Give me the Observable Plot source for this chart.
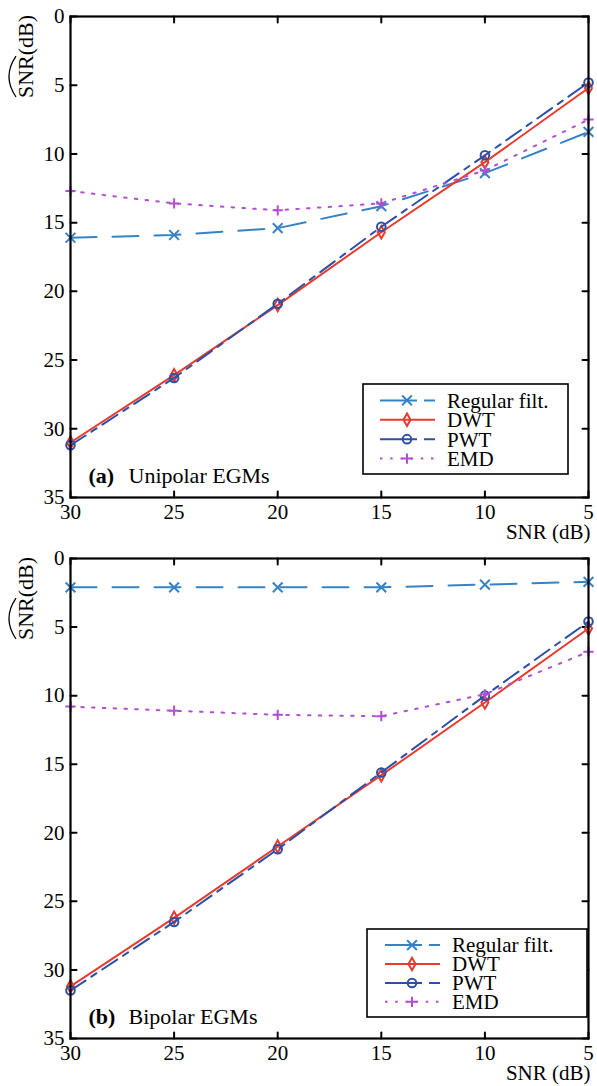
<!DOCTYPE html>
<html>
<head>
<meta charset="utf-8">
<script src="https://cdn.jsdelivr.net/npm/d3@7"></script>
<script src="https://cdn.jsdelivr.net/npm/@observablehq/plot@0.6"></script>
<style>
  body { margin: 0; background: #fff; }
  #chart { width: 597px; }
  #chart svg { display: block; }
</style>
</head>
<body>
<div id="chart"></div>
<script>
// Input SNR levels (dB) and tick values
const snrIn = [30, 25, 20, 15, 10, 5];
const xTicks = [30, 25, 20, 15, 10, 5];
const yTicks = [0, 5, 10, 15, 20, 25, 30, 35];
const seriesNames = ["Regular filt.", "DWT", "PWT", "EMD"];

// (a) Unipolar EGMs: estimated output SNR (dB)
const uniRegular = [16.1, 15.9, 15.4, 13.8, 11.4, 8.4];
const uniDWT     = [31.0, 26.1, 21.0, 15.7, 10.6, 5.2];
const uniPWT     = [31.2, 26.3, 20.9, 15.3, 10.1, 4.8];
const uniEMD     = [12.7, 13.6, 14.1, 13.6, 11.2, 7.5];

// (b) Bipolar EGMs: estimated output SNR (dB)
const biRegular = [2.1, 2.1, 2.1, 2.1, 1.9, 1.7];
const biDWT     = [31.2, 26.2, 21.0, 15.8, 10.5, 5.1];
const biPWT     = [31.5, 26.5, 21.2, 15.6, 10.0, 4.6];
const biEMD     = [10.8, 11.1, 11.4, 11.5, 9.9, 6.8];

// Tall, narrow diamond marker (MATLAB-like 'd')
const tallDiamond = {
  draw(ctx, size) {
    const r = Math.sqrt(size / Math.PI);
    ctx.moveTo(0, -1.45 * r);
    ctx.lineTo(0.82 * r, 0);
    ctx.lineTo(0, 1.45 * r);
    ctx.lineTo(-0.82 * r, 0);
    ctx.closePath();
  }
};

// Plain straight stroke used as a tick-mark vector shape
const tickShape = {
  draw(ctx, l) {
    ctx.moveTo(0, 0);
    ctx.lineTo(0, -l);
  }
};

const seriesStyles = [
  { color: "#3583c6", dash: "26,16", legendDash: "37,7,12", symbol: "times", d3symbol: d3.symbolTimes, r: 4.5 },
  { color: "#e63b2e", dash: null, legendDash: null, symbol: tallDiamond, d3symbol: tallDiamond, r: 4.3 },
  { color: "#2e4fa6", dash: "18,7,6,7", legendDash: "37,7,12", symbol: "circle", d3symbol: d3.symbolCircle, r: 4.3 },
  { color: "#b24fd1", dash: "2.5,8.3", legendDash: "2.5,7.7", symbol: "plus", d3symbol: d3.symbolPlus, r: 3.4 }
];

const FONT = "'Liberation Serif', 'Times New Roman', serif";
const TICK = 6;

function inwardTicks() {
  const common = { length: TICK, anchor: "start", shape: tickShape, stroke: "black", strokeWidth: 2 };
  return [
    Plot.vector(xTicks, { x: d => d, frameAnchor: "bottom", rotate: 0, ...common }),
    Plot.vector(xTicks, { x: d => d, frameAnchor: "top", rotate: 180, ...common }),
    Plot.vector(yTicks, { y: d => d, frameAnchor: "left", rotate: 90, ...common }),
    Plot.vector(yTicks, { y: d => d, frameAnchor: "right", rotate: -90, ...common })
  ];
}

function makePanel({series, height, marginBottom, tag, title, legendBox, legendX}) {
  const rows = series.flatMap((vals, i) =>
    snrIn.map((x, j) => ({ series: seriesNames[i], idx: i, x, y: vals[j] })));

  const marks = [];
  seriesStyles.forEach((s, i) => {
    const data = rows.filter(d => d.idx === i);
    marks.push(Plot.line(data, {
      x: "x", y: "y", stroke: s.color, strokeWidth: 2,
      strokeDasharray: s.dash ?? undefined
    }));
    marks.push(Plot.dot(data, {
      x: "x", y: "y", symbol: s.symbol, r: s.r,
      stroke: s.color, strokeWidth: 2, fill: "none"
    }));
  });

  const svg = Plot.plot({
    width: 597,
    height,
    marginTop: 16,
    marginBottom,
    marginLeft: 70,
    marginRight: 9,
    style: { fontFamily: FONT, fontSize: "21px", background: "white", overflow: "visible" },
    x: { domain: [30, 5], label: null },
    y: { domain: [0, 35], reverse: true, label: null },
    marks: [
      // tick labels
      Plot.axisX(xTicks, { anchor: "bottom", tickSize: 0, tickPadding: 7, fontSize: 21 }),
      Plot.axisY(yTicks, { anchor: "left", tickSize: 0, tickPadding: 6, fontSize: 21 }),
      // inward ticks on all four sides
      ...inwardTicks(),
      ...marks,
      Plot.frame({ stroke: "black", strokeWidth: 2.2 }),
      // x-axis title
      Plot.text(["SNR (dB)"], { frameAnchor: "bottom-right", textAnchor: "end", lineAnchor: "middle", dx: 2, dy: 35, fontSize: 21, fill: "black" }),
      // panel tag
      Plot.text([tag], { frameAnchor: "bottom-left", textAnchor: "start", lineAnchor: "middle", dx: 18, dy: -22, fontSize: 22, fontWeight: "bold", fill: "black" }),
      Plot.text([title], { frameAnchor: "bottom-left", textAnchor: "start", lineAnchor: "middle", dx: 58, dy: -22, fontSize: 22, fill: "black" })
    ]
  });

  document.getElementById("chart").append(svg);
  const root = d3.select(svg);

  // y-axis title: SNR with a wide hat, followed by (dB)
  const yl = root.append("g").attr("transform", "translate(33,98) rotate(-90)");
  const t = yl.append("text")
    .attr("text-anchor", "start")
    .attr("font-family", FONT).attr("font-size", 22).attr("fill", "black")
    .text("SNR(dB)");
  const hatW = t.node().getSubStringLength(0, 3);
  yl.append("path")
    .attr("d", `M1,-17 Q${hatW / 2},-31 ${hatW - 1},-17`)
    .attr("fill", "none").attr("stroke", "black").attr("stroke-width", 1.3);

  // legend
  const [bx0, by0, bx1, by1] = legendBox;
  const lg = root.append("g");
  lg.append("rect")
    .attr("x", bx0).attr("y", by0).attr("width", bx1 - bx0).attr("height", by1 - by0)
    .attr("fill", "white").attr("stroke", "black").attr("stroke-width", 1.6);
  const rowGap = (by1 - by0) / 4.65;
  seriesStyles.forEach((s, i) => {
    const yy = by0 + rowGap * (0.85 + i);
    lg.append("line")
      .attr("x1", legendX).attr("x2", legendX + 55).attr("y1", yy).attr("y2", yy)
      .attr("stroke", s.color).attr("stroke-width", 2)
      .attr("stroke-dasharray", s.legendDash);
    lg.append("path")
      .attr("transform", `translate(${legendX + 27},${yy})`)
      .attr("d", d3.symbol(s.d3symbol, Math.PI * s.r * s.r)())
      .attr("fill", "none").attr("stroke", s.color).attr("stroke-width", 2);
    lg.append("text")
      .attr("text-anchor", "start")
      .attr("x", legendX + 67).attr("y", yy).attr("dy", "0.35em")
      .attr("font-family", FONT).attr("font-size", 21).attr("fill", "black")
      .text(seriesNames[i]);
  });
}

makePanel({
  series: [uniRegular, uniDWT, uniPWT, uniEMD],
  height: 542, marginBottom: 45,
  tag: "(a)", title: "Unipolar EGMs",
  legendBox: [363, 384, 568, 474], legendX: 380
});
makePanel({
  series: [biRegular, biDWT, biPWT, biEMD],
  height: 544, marginBottom: 48,
  tag: "(b)", title: "Bipolar EGMs",
  legendBox: [367, 387, 587, 475], legendX: 385
});
</script>
</body>
</html>
